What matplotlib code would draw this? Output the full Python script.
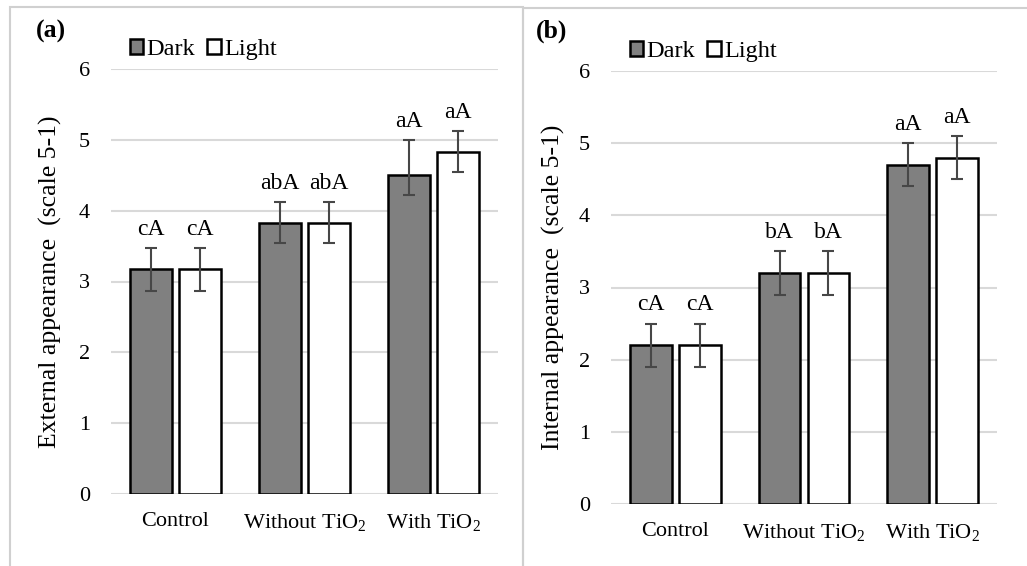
import matplotlib
matplotlib.use("Agg")
import matplotlib.pyplot as plt
import numpy as np
from matplotlib.patches import Rectangle, Patch

plt.rcParams['font.family'] = ['Liberation Serif', 'DejaVu Serif']
plt.rcParams['mathtext.fontset'] = 'custom'
plt.rcParams['mathtext.rm'] = 'Liberation Serif'
plt.rcParams['mathtext.it'] = 'Liberation Serif:italic'
plt.rcParams['mathtext.default'] = 'regular'

categories = ["Control", "Without TiO$_2$", "With TiO$_2$"]
series = ["Dark", "Light"]

ext_dark = [3.17, 3.83, 4.50]
ext_light = [3.17, 3.83, 4.83]
ext_dark_err_lo = [0.30, 0.29, 0.28]
ext_dark_err_hi = [0.30, 0.29, 0.50]
ext_light_err_lo = [0.30, 0.29, 0.29]
ext_light_err_hi = [0.30, 0.29, 0.29]
ext_dark_lbl = ["cA", "abA", "aA"]
ext_light_lbl = ["cA", "abA", "aA"]

int_dark = [2.2, 3.2, 4.7]
int_light = [2.2, 3.2, 4.8]
int_dark_err = [0.3, 0.3, 0.3]
int_light_err = [0.3, 0.3, 0.3]
int_dark_lbl = ["cA", "bA", "aA"]
int_light_lbl = ["cA", "bA", "aA"]

yticks = [0, 1, 2, 3, 4, 5, 6]

W, H = 1027, 566
fig = plt.figure(figsize=(W / 100, H / 100), dpi=100)

# panel frames
border = '#d0d0d0'
fig.patches.append(Rectangle((10 / W, -0.01), (523 - 10) / W, 1 - 7 / H + 0.01,
                             transform=fig.transFigure, fill=False, ec=border, lw=1.5))
fig.patches.append(Rectangle((523 / W, -0.01), (1040 - 523) / W, 1 - 8 / H + 0.01,
                             transform=fig.transFigure, fill=False, ec=border, lw=1.5))

def px_axes(l, r, t, b):
    return fig.add_axes([l / W, (H - b) / H, (r - l) / W, (b - t) / H])

FS = 16
dark_col = '#808080'
err_col = '#474747'

def draw(ax, dark, light, dlo, dhi, llo, lhi, dl, ll, ylabel, panel, panel_x, ylab_x):
    x = np.arange(len(categories))
    bw = 0.325
    off = 0.19
    ax.bar(x - off, dark, bw, color=dark_col, edgecolor='black', linewidth=1.8, zorder=3, label=series[0])
    ax.bar(x + off, light, bw, color='white', edgecolor='black', linewidth=1.8, zorder=3, label=series[1])
    ax.errorbar(x - off, dark, yerr=[dlo, dhi], fmt='none', ecolor=err_col, elinewidth=1.5,
                capsize=4, capthick=1.5, zorder=4)
    ax.errorbar(x + off, light, yerr=[llo, lhi], fmt='none', ecolor=err_col, elinewidth=1.5,
                capsize=4, capthick=1.5, zorder=4)
    for i in range(len(categories)):
        ax.annotate(dl[i], (x[i] - off, dark[i] + dhi[i]), xytext=(0, 9.5), textcoords='offset points',
                    ha='center', va='baseline', fontsize=17)
        ax.annotate(ll[i], (x[i] + off, light[i] + lhi[i]), xytext=(0, 9.5), textcoords='offset points',
                    ha='center', va='baseline', fontsize=17)
    ax.set_xlim(-0.5, len(categories) - 0.5)
    ax.set_ylim(0, 6)
    ax.set_yticks(yticks)
    ax.set_xticks(x)
    ax.set_xticklabels(categories, fontsize=FS)
    ax.tick_params(axis='y', length=0, pad=15, labelsize=FS)
    ax.tick_params(axis='x', length=0, pad=13, labelsize=FS)
    ax.grid(axis='y', color='#d9d9d9', linewidth=1.5, zorder=0)
    ax.set_axisbelow(True)
    for s in ax.spines.values():
        s.set_visible(False)
    ax.set_ylabel(ylabel, fontsize=18.5)
    ax.yaxis.set_label_coords(ylab_x, 0.5)
    ax.legend(handles=[Patch(facecolor=dark_col, edgecolor='black', lw=1.8),
                       Patch(facecolor='white', edgecolor='black', lw=1.8)],
              labels=series, loc='center left', bbox_to_anchor=(0.048, 1.045),
              ncol=2, frameon=False, fontsize=17.5, handlelength=0.55, handleheight=0.55,
              handletextpad=0.15, columnspacing=0.5, borderpad=0, borderaxespad=0)
    fig.text(panel_x / W, 1 - 31 / H, panel, fontsize=18.5, fontweight='bold', ha='left', va='center')

ax1 = px_axes(111, 498, 69, 494)
draw(ax1, ext_dark, ext_light, ext_dark_err_lo, ext_dark_err_hi, ext_light_err_lo, ext_light_err_hi,
     ext_dark_lbl, ext_light_lbl, "External appearance  (scale 5-1)", "(a)", 36, -0.127)

ax2 = px_axes(611, 997, 71, 504)
draw(ax2, int_dark, int_light, int_dark_err, int_dark_err, int_light_err, int_light_err,
     int_dark_lbl, int_light_lbl, "Internal appearance  (scale 5-1)", "(b)", 536, -0.119)

fig.savefig("out.png", dpi=100)
